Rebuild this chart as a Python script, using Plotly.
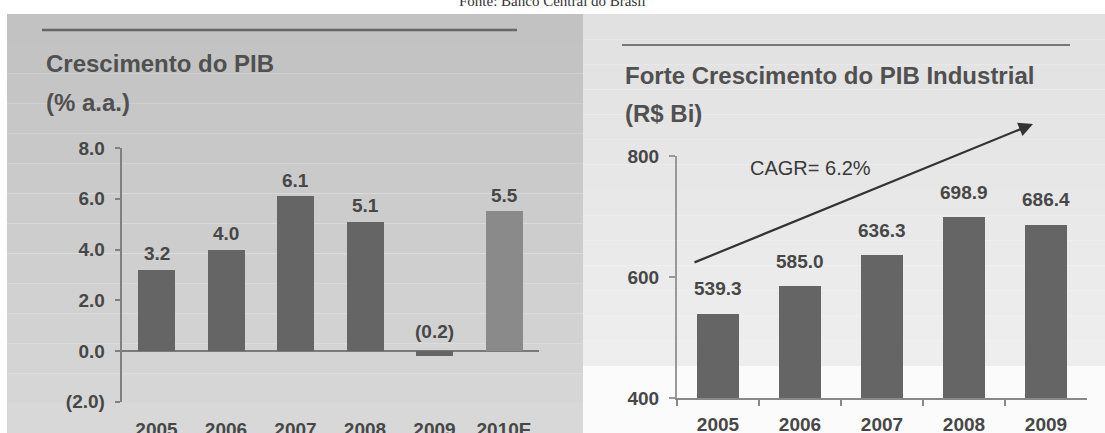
import plotly.graph_objects as go

W, H = 1105, 433

# ---- data ----
pib_years = ["2005", "2006", "2007", "2008", "2009", "2010E"]
pib_growth = [3.2, 4.0, 6.1, 5.1, -0.2, 5.5]
pib_labels = ["3.2", "4.0", "6.1", "5.1", "(0.2)", "5.5"]
pib_yticks = [-2, 0, 2, 4, 6, 8]
pib_yticktext = ["(2.0)", "0.0", "2.0", "4.0", "6.0", "8.0"]

ind_years = ["2005", "2006", "2007", "2008", "2009"]
ind_values = [539.3, 585.0, 636.3, 698.9, 686.4]
ind_yticks = [400, 600, 800]

FONT = "Liberation Sans, Arial, sans-serif"
TXT = "#474747"

def px(x):
    return x / W

def py(y):
    return 1 - y / H

fig = go.Figure()

fig.add_trace(go.Bar(
    x=pib_years, y=pib_growth, xaxis="x", yaxis="y",
    marker=dict(color=["#656565"] * 5 + ["#8a8a8a"], line=dict(width=0)),
    width=0.53, showlegend=False, hoverinfo="skip",
))
fig.add_trace(go.Bar(
    x=ind_years, y=ind_values, xaxis="x2", yaxis="y2",
    marker=dict(color="#656565", line=dict(width=0)),
    width=0.52, showlegend=False, hoverinfo="skip",
))

shapes = []
lt, lb = 14, 433
nb = 14
for i in range(nb):
    y0 = lt + (lb - lt) * i / nb
    y1 = lt + (lb - lt) * (i + 1) / nb
    c = int(194 + (216 - 194) * i / (nb - 1))
    shapes.append(dict(type="rect", xref="paper", yref="paper", layer="below",
                       x0=px(7), x1=px(583), y0=py(y1), y1=py(y0),
                       fillcolor=f"rgb({c},{c},{c})", line=dict(width=0)))
rt, rb = 14, 366
for i in range(nb):
    y0 = rt + (rb - rt) * i / nb
    y1 = rt + (rb - rt) * (i + 1) / nb
    c = int(225 + (238 - 225) * i / (nb - 1))
    shapes.append(dict(type="rect", xref="paper", yref="paper", layer="below",
                       x0=px(583), x1=px(1105), y0=py(y1), y1=py(y0),
                       fillcolor=f"rgb({c},{c},{c})", line=dict(width=0)))
shapes.append(dict(type="rect", xref="paper", yref="paper", layer="below",
                   x0=px(583), x1=px(1105), y0=0, y1=py(366),
                   fillcolor="#fbfbfb", line=dict(width=0)))
shapes.append(dict(type="line", xref="paper", yref="paper",
                   x0=px(42), x1=px(517), y0=py(30), y1=py(30),
                   line=dict(color="#666666", width=2.5)))
shapes.append(dict(type="line", xref="paper", yref="paper",
                   x0=px(622), x1=px(1070), y0=py(45), y1=py(45),
                   line=dict(color="#555555", width=1.5)))

annotations = []
annotations.append(dict(text="Fonte: Banco Central do Brasil", xref="paper", yref="paper",
                        x=px(552), y=py(1), xanchor="center", yanchor="middle",
                        showarrow=False, font=dict(family="Liberation Serif, Times New Roman, serif",
                                                   size=15, color="#333333")))
for t, x, y, s in [("Crescimento do PIB", 44, 63, 24), ("(% a.a.)", 44, 103, 24),
                   ("Forte Crescimento do PIB Industrial", 623, 75, 24), ("(R$ Bi)", 623, 113, 24)]:
    annotations.append(dict(text=f"<b>{t}</b>", xref="paper", yref="paper", x=px(x), y=py(y),
                            xanchor="left", yanchor="middle", showarrow=False,
                            font=dict(family=FONT, size=s, color="#505050")))
for i, (v, lab) in enumerate(zip(pib_growth, pib_labels)):
    annotations.append(dict(text=f"<b>{lab}</b>", x=i, y=max(v, 0), xref="x", yref="y",
                            xanchor="center", yanchor="middle", yshift=16 if v > 0 else 20,
                            showarrow=False, font=dict(family=FONT, size=19, color=TXT)))
for i, v in enumerate(ind_values):
    annotations.append(dict(text=f"<b>{v:.1f}</b>", x=i, y=v, xref="x2", yref="y2",
                            xanchor="center", yanchor="middle", yshift=25,
                            showarrow=False, font=dict(family=FONT, size=19, color=TXT)))
annotations.append(dict(x=px(1033), y=py(124), xref="paper", yref="paper",
                        ax=693 - 1033, ay=263 - 124, showarrow=True,
                        arrowhead=2, arrowsize=1.3, arrowwidth=2.2, arrowcolor="#333333", text=""))
annotations.append(dict(text="CAGR= 6.2%", xref="paper", yref="paper", x=px(810), y=py(168),
                        xanchor="center", yanchor="middle", showarrow=False,
                        font=dict(family=FONT, size=20, color="#3a3a3a")))

axis_font = dict(family=FONT, size=19, color=TXT, weight="bold")

fig.update_layout(
    width=W, height=H,
    margin=dict(l=0, r=0, t=0, b=0, autoexpand=False),
    paper_bgcolor="white", plot_bgcolor="rgba(0,0,0,0)",
    shapes=shapes, annotations=annotations,
    bargap=0,
    xaxis=dict(type="category", range=[-0.5, 5.5], domain=[px(121.75), px(538.75)], anchor="y",
               showline=False, ticks="", showgrid=False, zeroline=False, tickfont=axis_font,
               ticklabelstandoff=14, automargin=False, tickangle=0, fixedrange=True),
    yaxis=dict(domain=[py(401.75), py(148)], anchor="x", range=[-2, 8],
               tickvals=pib_yticks, ticktext=pib_yticktext, showline=True,
               linecolor="#808080", linewidth=2, ticks="outside", ticklen=5,
               tickcolor="#808080", tickwidth=1.5, showgrid=False,
               zeroline=True, zerolinecolor="#7a7a7a", zerolinewidth=2,
               tickfont=axis_font, ticklabelstandoff=6, automargin=False),
    xaxis2=dict(type="category", range=[-0.5, 4.5], domain=[px(677), px(1087)], anchor="y2",
                showline=True, linecolor="#888888", linewidth=2, ticks="outside",
                tickson="boundaries", ticklen=6, tickcolor="#888888", tickwidth=2,
                showgrid=False, zeroline=False, tickfont=axis_font, ticklabelstandoff=8,
                automargin=False, tickangle=0),
    yaxis2=dict(domain=[py(398), py(156)], anchor="x2", range=[400, 800],
                tickvals=ind_yticks, showline=True, linecolor="#999999", linewidth=2,
                ticks="outside", ticklen=6, tickcolor="#999999", tickwidth=1.5,
                showgrid=False, zeroline=False, tickfont=axis_font, ticklabelstandoff=6,
                automargin=False),
)

fig.write_html("out.html", config={"displayModeBar": False},
               post_script="document.body.style.margin='0';")
